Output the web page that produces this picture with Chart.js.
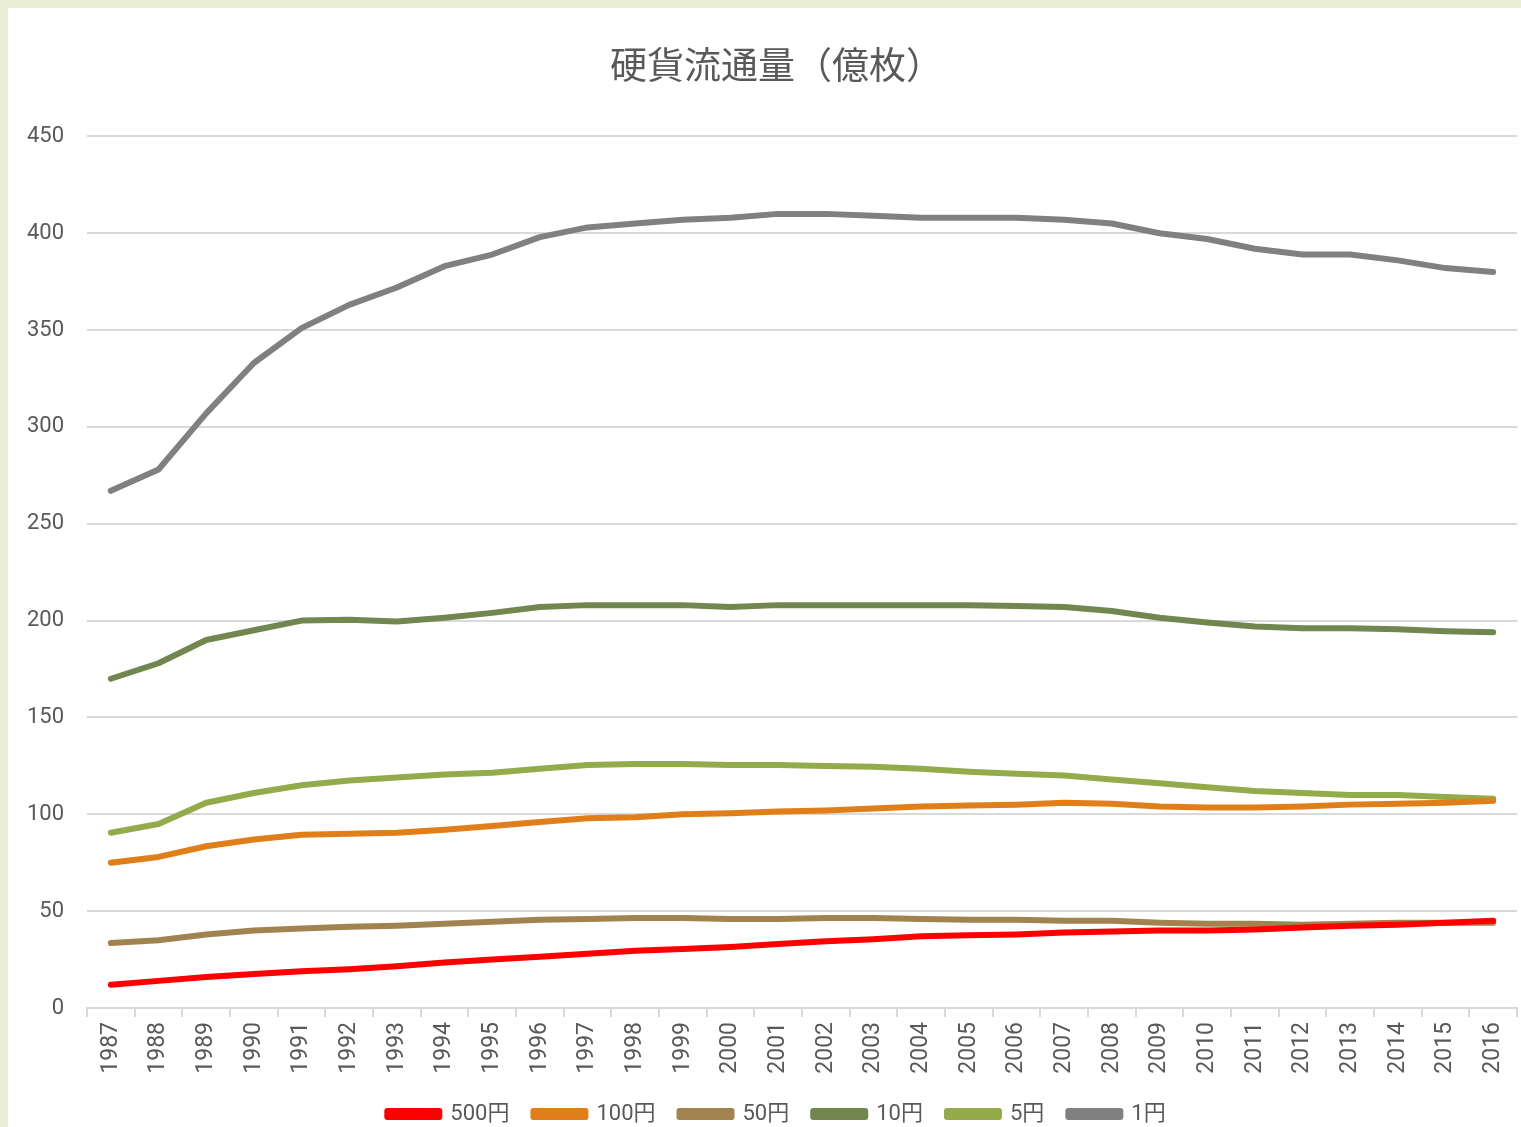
<!DOCTYPE html>
<html>
<head>
<meta charset="utf-8">
<script src="https://cdn.jsdelivr.net/npm/chart.js@4/dist/chart.umd.min.js"></script>
<style>
  body { margin: 0; background: #e9eed5; width: 1521px; height: 1127px; overflow: hidden; }
  #box { position: absolute; left: 8px; top: 8px; width: 1513px; height: 1119px; background: #fff; overflow: hidden; }
</style>
</head>
<body>
<div id="box"><canvas id="chartjs-0"></canvas></div>
<script>
/* 硬貨流通量 (億枚) */
var years = ["1987","1988","1989","1990","1991","1992","1993","1994","1995","1996",
             "1997","1998","1999","2000","2001","2002","2003","2004","2005","2006",
             "2007","2008","2009","2010","2011","2012","2013","2014","2015","2016"];

var yen500 = [12, 14, 16, 17.5, 19, 20, 21.5, 23.5, 25, 26.5,
              28, 29.5, 30.5, 31.5, 33, 34.5, 35.5, 37, 37.5, 38,
              39, 39.5, 40, 40, 40.5, 41.5, 42.5, 43, 44, 45];
var yen100 = [75, 78, 83.5, 87, 89.5, 90, 90.5, 92, 94, 96,
              98, 98.5, 100, 100.5, 101.5, 102, 103, 104, 104.5, 105,
              106, 105.5, 104, 103.5, 103.5, 104, 105, 105.5, 106, 107];
var yen50 = [33.5, 35, 38, 40, 41, 42, 42.5, 43.5, 44.5, 45.5,
             46, 46.5, 46.5, 46, 46, 46.5, 46.5, 46, 45.5, 45.5,
             45, 45, 44, 43.5, 43.5, 43, 43.5, 44, 44, 44];
var yen10 = [170, 178, 190, 195, 200, 200.5, 199.5, 201.5, 204, 207,
             208, 208, 208, 207, 208, 208, 208, 208, 208, 207.5,
             207, 205, 201.5, 199, 197, 196, 196, 195.5, 194.5, 194];
var yen5 = [90.5, 95, 106, 111, 115, 117.5, 119, 120.5, 121.5, 123.5,
            125.5, 126, 126, 125.5, 125.5, 125, 124.5, 123.5, 122, 121,
            120, 118, 116, 114, 112, 111, 110, 110, 109, 108];
var yen1 = [267, 278, 307, 333, 351, 363, 372, 383, 389, 398,
            403, 405, 407, 408, 410, 410, 409, 408, 408, 408,
            407, 405, 400, 397, 392, 389, 389, 386, 382, 380];

var seriesNames = ["500円", "100円", "50円", "10円", "5円", "1円"];
var seriesColors = ["#ff0000", "#e07e1a", "#a0834f", "#72864f", "#93ab4a", "#808080"];
var seriesData = [yen500, yen100, yen50, yen10, yen5, yen1];

var textColor = "#595959";
var gridColor = "#d9d9d9";
var fontFamily = "Roboto, 'Noto Sans CJK JP', sans-serif";

var datasets = [];
for (var i = 0; i < seriesNames.length; i++) {
  datasets.push({
    label: seriesNames[i],
    data: seriesData[i],
    borderColor: seriesColors[i],
    backgroundColor: seriesColors[i],
    borderWidth: 6,
    borderCapStyle: "round",
    borderJoinStyle: "round",
    pointRadius: 0,
    tension: 0
  });
}

/* left padding shifts title + legend right; let the y labels use that space again */
var unclipY = {
  id: "unclipY",
  afterLayout: function (chart) { chart.scales.y.left = 0; }
};

var ctx = document.getElementById("chartjs-0");
var myChart = new Chart(ctx, {
  type: "line",
  data: { labels: years, datasets: datasets },
  plugins: [unclipY],
  options: {
    responsive: true,
    maintainAspectRatio: false,
    animation: false,
    layout: { padding: { left: 28, right: 4, top: 0, bottom: -8 } },
    plugins: {
      title: {
        display: true,
        text: "硬貨流通量（億枚）",
        color: textColor,
        font: { family: "'Noto Sans CJK JP', sans-serif", size: 37, weight: "normal" },
        padding: { top: 35, bottom: 49 }
      },
      legend: {
        position: "bottom",
        labels: {
          color: textColor,
          font: { family: fontFamily, size: 22 },
          boxWidth: 52,
          boxHeight: 6,
          padding: 24
        }
      },
      tooltip: { enabled: false }
    },
    scales: {
      x: {
        offset: true,
        grid: { offset: true, drawOnChartArea: false, drawTicks: true, tickLength: 9, color: gridColor, lineWidth: 2 },
        border: { display: true, color: gridColor, width: 2 },
        ticks: { color: textColor, font: { family: fontFamily, size: 23 }, minRotation: 90, maxRotation: 90, padding: 5, autoSkip: false },
        afterFit: function (axis) {
          axis.height = 71;
          axis.paddingLeft = 0;
          axis.paddingRight = 0;
        }
      },
      y: {
        min: 0,
        max: 450,
        grid: { color: gridColor, lineWidth: 2, drawTicks: false },
        border: { display: false },
        ticks: { stepSize: 50, color: textColor, font: { family: fontFamily, size: 22 }, padding: 23 },
        afterFit: function (axis) { axis.width = 51; }
      }
    }
  }
});
</script>
</body>
</html>
